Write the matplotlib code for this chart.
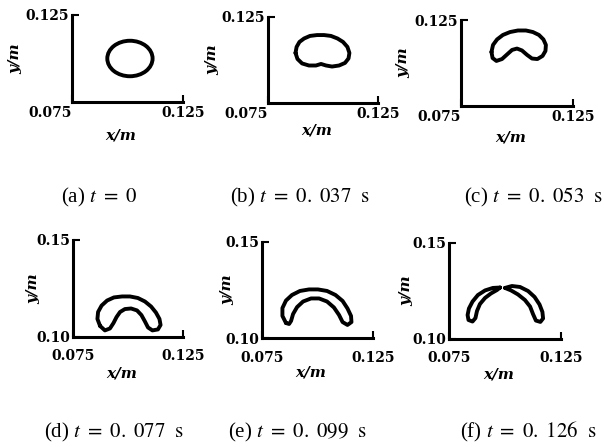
import matplotlib
matplotlib.use("Agg")
import matplotlib.pyplot as plt
from matplotlib.patches import Ellipse

# -----------------------------------
# Data (bubble outlines, metres)
# -----------------------------------

# (a) t = 0 : initial circular bubble
circle_center = (0.1011, 0.1000)
circle_radius = 0.0102

# (b) t = 0.037 s
b_x = [0.0875, 0.0880, 0.0893, 0.0914, 0.0941, 0.0973, 0.1005, 0.1036,
       0.1066, 0.1091, 0.1111, 0.1120, 0.1116, 0.1100, 0.1073, 0.1041,
       0.1014, 0.0991, 0.0968, 0.0936, 0.0905, 0.0884]
b_y = [0.1041, 0.1076, 0.1105, 0.1125, 0.1140, 0.1145, 0.1145, 0.1140,
       0.1125, 0.1105, 0.1076, 0.1041, 0.1009, 0.0983, 0.0968, 0.0962,
       0.0968, 0.0977, 0.0968, 0.0968, 0.0980, 0.1006]

# (c) t = 0.053 s
c_x = [0.0886, 0.0893, 0.0911, 0.0937, 0.0969, 0.1004, 0.1040, 0.1071,
       0.1098, 0.1118, 0.1129, 0.1127, 0.1114, 0.1091, 0.1067, 0.1045,
       0.1022, 0.1000, 0.0978, 0.0955, 0.0933, 0.0908, 0.0891]
c_y = [0.1064, 0.1105, 0.1137, 0.1163, 0.1180, 0.1189, 0.1189, 0.1180,
       0.1163, 0.1137, 0.1105, 0.1070, 0.1041, 0.1023, 0.1026, 0.1047,
       0.1073, 0.1084, 0.1076, 0.1049, 0.1023, 0.1012, 0.1029]

# (d) t = 0.077 s
d_x = [0.0873, 0.0861, 0.0864, 0.0880, 0.0905, 0.0936, 0.0973, 0.1009,
       0.1045, 0.1077, 0.1105, 0.1127, 0.1143, 0.1148, 0.1136, 0.1111,
       0.1091, 0.1077, 0.1061, 0.1041, 0.1014, 0.0986, 0.0964, 0.0948,
       0.0934, 0.0918, 0.0895]
d_y = [0.1057, 0.1093, 0.1129, 0.1162, 0.1188, 0.1204, 0.1209, 0.1209,
       0.1201, 0.1183, 0.1157, 0.1126, 0.1093, 0.1062, 0.1039, 0.1034,
       0.1049, 0.1080, 0.1113, 0.1137, 0.1147, 0.1144, 0.1129, 0.1103,
       0.1072, 0.1044, 0.1034]

# (e) t = 0.099 s
e_x = [0.0858, 0.0842, 0.0842, 0.0858, 0.0885, 0.0921, 0.0962, 0.1002,
       0.1043, 0.1081, 0.1113, 0.1135, 0.1151, 0.1153, 0.1135, 0.1113,
       0.1097, 0.1074, 0.1043, 0.1007, 0.0971, 0.0935, 0.0908, 0.0890,
       0.0881, 0.0872]
e_y = [0.1078, 0.1115, 0.1156, 0.1195, 0.1224, 0.1245, 0.1253, 0.1253,
       0.1245, 0.1224, 0.1193, 0.1154, 0.1115, 0.1083, 0.1068, 0.1083,
       0.1120, 0.1159, 0.1190, 0.1206, 0.1206, 0.1190, 0.1161, 0.1125,
       0.1089, 0.1073]

# (f) t = 0.126 s : two separated fragments
f1_x = [0.0978, 0.0946, 0.0911, 0.0879, 0.0855, 0.0839, 0.0833, 0.0837,
        0.0855, 0.0868, 0.0875, 0.0888, 0.0911, 0.0937, 0.0964]
f1_y = [0.1268, 0.1266, 0.1253, 0.1229, 0.1195, 0.1159, 0.1125, 0.1099,
        0.1091, 0.1109, 0.1146, 0.1182, 0.1214, 0.1237, 0.1255]
f2_x = [0.1000, 0.1031, 0.1067, 0.1103, 0.1132, 0.1154, 0.1167, 0.1170,
        0.1158, 0.1138, 0.1125, 0.1112, 0.1089, 0.1058, 0.1027]
f2_y = [0.1266, 0.1276, 0.1271, 0.1250, 0.1219, 0.1180, 0.1141, 0.1107,
        0.1089, 0.1096, 0.1130, 0.1169, 0.1203, 0.1232, 0.1253]

captions = [
    r"(a) $t\ =\ 0$",
    r"(b) $t\ =\ 0.\ 037\ \ \mathrm{s}$",
    r"(c) $t\ =\ 0.\ 053\ \ \mathrm{s}$",
    r"(d) $t\ =\ 0.\ 077\ \ \mathrm{s}$",
    r"(e) $t\ =\ 0.\ 099\ \ \mathrm{s}$",
    r"(f) $t\ =\ 0.\ 126\ \ \mathrm{s}$",
]

x_range = (0.075, 0.125)
y_range_top = (0.075, 0.125)
y_range_bottom = (0.10, 0.15)

# -----------------------------------
# Figure / layout
# -----------------------------------

plt.rcParams["font.family"] = "DejaVu Serif"
plt.rcParams["mathtext.fontset"] = "stix"

W, H = 604, 447
fig = plt.figure(figsize=(W / 100, H / 100), dpi=100)

# axes boxes in pixels: left, top, right, bottom
boxes = [
    (72, 15, 183, 102),
    (268, 17, 378, 103),
    (461, 20, 573, 106),
    (73, 240, 183, 337),
    (262, 242, 373, 338),
    (449, 243, 561, 339),
]
ylab_x = [-0.45, -0.44, -0.45, -0.30, -0.25, -0.315]
xlab_y = [-0.30, -0.24, -0.29, -0.30, -0.29, -0.30]
cap_pos = [(99, 197), (300, 197), (533, 197),
           (114, 432), (297, 432), (528, 432)]

tick_font = dict(family="DejaVu Serif", weight="bold", size=10)
lab_font = dict(family="DejaVu Serif", weight="bold", style="italic", size=11)
lw_shape = 2.8

axes = []
for i, (l, t, r, b) in enumerate(boxes):
    ax = fig.add_axes([l / W, 1 - b / H, (r - l) / W, (b - t) / H])
    ax.set_facecolor("none")
    for s in ["top", "right"]:
        ax.spines[s].set_visible(False)
    for s in ["left", "bottom"]:
        ax.spines[s].set_linewidth(2.2)
    ax.set_xlim(*x_range)
    top_row = i < 3
    ax.set_ylim(*(y_range_top if top_row else y_range_bottom))

    ax.set_xticks([0.075, 0.125], labels=["0.075", "0.125"], **tick_font)
    if top_row:
        ax.set_yticks([0.125], labels=["0.125"], **tick_font)
        ax.get_xticklabels()[0].set_horizontalalignment("right")
        ax.tick_params(axis="x", pad=3)
    else:
        ax.set_yticks([0.10, 0.15], labels=["0.10", "0.15"], **tick_font)
        ax.tick_params(axis="x", pad=9)
    ax.tick_params(direction="in", length=5, width=1.5, colors="black")
    ax.tick_params(axis="y", pad=2)

    ax.set_xlabel("x/m", **lab_font)
    ax.set_ylabel("y/m", **lab_font)
    ax.xaxis.set_label_coords(0.44, xlab_y[i])
    ax.yaxis.set_label_coords(ylab_x[i], 0.5)

    fig.text(cap_pos[i][0] / W, 1 - cap_pos[i][1] / H, captions[i],
             ha="center", va="center", fontsize=15,
             family="Liberation Serif")
    axes.append(ax)

# -----------------------------------
# Bubble outlines
# -----------------------------------

axes[0].add_patch(Ellipse(circle_center, 2 * circle_radius, 2 * circle_radius,
                          fill=False, edgecolor="black", lw=lw_shape))


def outline(ax, xs, ys):
    ax.plot(xs + xs[:1], ys + ys[:1], color="black", lw=lw_shape,
            solid_joinstyle="round", solid_capstyle="round")


outline(axes[1], b_x, b_y)
outline(axes[2], c_x, c_y)
outline(axes[3], d_x, d_y)
outline(axes[4], e_x, e_y)
outline(axes[5], f1_x, f1_y)
outline(axes[5], f2_x, f2_y)

fig.savefig("out.png", dpi=100)
